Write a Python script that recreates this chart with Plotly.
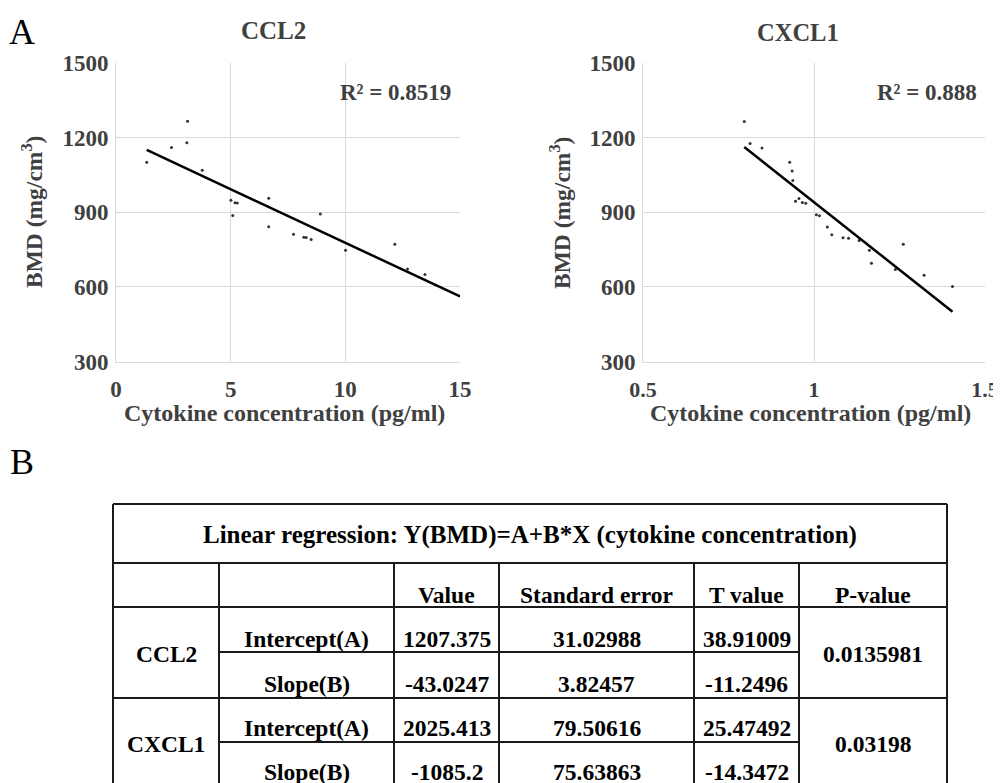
import plotly.graph_objects as go

# the page body has an 8px margin: the figure starts at (8, 8) in the window
OFF = 8
W, H = 1001 - OFF, 783 - OFF

# ---------------- data ----------------
ccl2_x = [1.34, 2.42, 3.12, 3.09, 3.76, 5.01, 5.19, 5.29, 5.09, 6.66, 6.66, 7.74,
          8.19, 8.29, 8.51, 8.91, 10.01, 12.16, 12.71, 13.47]
ccl2_y = [1100, 1160, 1265, 1179, 1068, 948, 938, 937, 887, 956, 842, 812,
          799, 798, 790, 893, 747, 771, 672, 650]

cxcl1_x = [0.796, 0.813, 0.848, 0.929, 0.936, 0.938, 0.946, 0.956, 0.966, 0.976,
           1.007, 1.016, 1.039, 1.052, 1.085, 1.101, 1.132, 1.162, 1.168, 1.261,
           1.238, 1.322, 1.405]
cxcl1_y = [1264, 1176, 1158, 1100, 1065, 1027, 944, 955, 939, 936,
           890, 886, 841, 810, 797, 795, 786, 747, 695, 771,
           670, 647, 602]

ccl2_fit = (1207.375, -43.0247)      # intercept, slope
cxcl1_fit = (2025.413, -1085.2)
ccl2_trend_x = [min(ccl2_x), 15]
cxcl1_trend_x = [min(cxcl1_x), max(cxcl1_x)]

r2_labels = ["R² = 0.8519", "R² = 0.888"]
chart_titles = ["CCL2", "CXCL1"]
y_ticks = [300, 600, 900, 1200, 1500]
x_ticks_left = [0, 5, 10, 15]
x_ticks_right = [0.5, 1, 1.5]

table_title = "Linear regression: Y(BMD)=A+B*X (cytokine concentration)"
table_header = ["", "", "Value", "Standard error", "T value", "P-value"]
cytokines = ["CCL2", "CXCL1"]
params = ["Intercept(A)", "Slope(B)"]
values = [["1207.375", "-43.0247"], ["2025.413", "-1085.2"]]
std_errors = [["31.02988", "3.82457"], ["79.50616", "75.63863"]]
t_values = [["38.91009", "-11.2496"], ["25.47492", "-14.3472"]]
p_values = ["0.0135981", "0.03198"]

# ---------------- helpers ----------------
def px(x):
    return (x - OFF) / W

def py(y):
    return 1 - (y - OFF) / H

FONT = "Liberation Serif"
GRAY = "#404040"

fig = go.Figure()

def trend(fit, xs):
    return [fit[0] + fit[1] * x for x in xs]

fig.add_trace(go.Scatter(x=ccl2_x, y=ccl2_y, mode="markers",
                         marker=dict(size=3, color="#333333"), xaxis="x", yaxis="y"))
fig.add_trace(go.Scatter(x=ccl2_trend_x, y=trend(ccl2_fit, ccl2_trend_x), mode="lines",
                         line=dict(color="black", width=2.5), xaxis="x", yaxis="y"))
fig.add_trace(go.Scatter(x=cxcl1_x, y=cxcl1_y, mode="markers",
                         marker=dict(size=3, color="#333333"), xaxis="x2", yaxis="y2"))
fig.add_trace(go.Scatter(x=cxcl1_trend_x, y=trend(cxcl1_fit, cxcl1_trend_x), mode="lines",
                         line=dict(color="black", width=2.5), xaxis="x2", yaxis="y2"))

tickfont = dict(family=FONT, size=23, color=GRAY, weight="bold")
tickfont_small = dict(family=FONT, size=22, color=GRAY, weight="bold")
plot_top, plot_bot = 62.7, 361.7
ydom = [py(plot_bot), py(plot_top)]

axis_common = dict(showgrid=True, gridcolor="#d9d9d9", gridwidth=1, zeroline=False,
                   showline=True, linecolor="#d9d9d9", linewidth=1, ticks="",
                   automargin=False, ticklabeloverflow="allow")

fig.update_layout(
    template="none",
    width=W, height=H, autosize=False,
    margin=dict(l=0, r=0, t=0, b=0, pad=0),
    paper_bgcolor="white", plot_bgcolor="white",
    showlegend=False,
    xaxis=dict(domain=[px(116), px(460)], range=[0, 15], tickvals=x_ticks_left,
               anchor="y", ticklabelstandoff=7, tickfont=tickfont, **axis_common),
    yaxis=dict(domain=ydom, range=[300, 1500], tickvals=y_ticks, anchor="x",
               ticklabelstandoff=2, tickfont=tickfont, **axis_common),
    xaxis2=dict(domain=[px(643), px(985)], range=[0.5, 1.5], tickvals=x_ticks_right,
                anchor="y2", ticklabelstandoff=8, tickfont=tickfont_small, **axis_common),
    yaxis2=dict(domain=ydom, range=[300, 1500], tickvals=y_ticks, anchor="x2",
                ticklabelstandoff=2, tickfont=tickfont, **axis_common),
)

ann = []
def text(t, x, y, size=20, color=GRAY, bold=True, xanchor="center", angle=0):
    ann.append(dict(text=t, x=px(x), y=py(y), xref="paper", yref="paper",
                    xanchor=xanchor, yanchor="middle", showarrow=False, textangle=angle,
                    font=dict(family=FONT, size=size, color=color,
                              weight="bold" if bold else "normal")))

# panel letters
text("A", 22, 32, size=36, color="black", bold=False)
text("B", 22, 462, size=36, color="black", bold=False)

# chart titles
text(chart_titles[0], 273, 30, size=25)
text(chart_titles[1], 798, 33, size=24.5)

# R² labels
text(r2_labels[0], 453, 93, size=23, xanchor="right")
text(r2_labels[1], 979, 93, size=23, xanchor="right")

# axis titles
text("BMD (mg/cm<sup>3</sup>)", 32, 212, size=23.5, angle=-90)
text("BMD (mg/cm<sup>3</sup>)", 560, 213, size=23.5, angle=-90)
text("Cytokine concentration (pg/ml)", 284, 413, size=24)
text("Cytokine concentration (pg/ml)", 810, 413, size=24)

# ---------------- table ----------------
col_edges = [113, 219, 394, 499, 694, 799, 947]
row_edges = [504, 563, 607, 652, 698, 742, 788]
shapes = []
LW = 2
def hline(x0, x1, y):
    shapes.append(dict(type="line", xref="paper", yref="paper", x0=px(x0), x1=px(x1),
                       y0=py(y), y1=py(y), line=dict(color="#1a1a1a", width=LW)))
def vline(x, y0, y1):
    shapes.append(dict(type="line", xref="paper", yref="paper", x0=px(x), x1=px(x),
                       y0=py(y0), y1=py(y1), line=dict(color="#1a1a1a", width=LW)))

for y in [row_edges[0], row_edges[1], row_edges[2], row_edges[4], row_edges[6]]:
    hline(col_edges[0], col_edges[-1], y)
for y in [row_edges[3], row_edges[5]]:
    hline(col_edges[1], col_edges[5], y)
vline(col_edges[0], row_edges[0], row_edges[-1])
vline(col_edges[-1], row_edges[0], row_edges[-1])
for x in col_edges[1:-1]:
    vline(x, row_edges[1], row_edges[-1])

def cx(i):
    return (col_edges[i] + col_edges[i + 1]) / 2

TS = 23.5
text(table_title, (col_edges[0] + col_edges[-1]) / 2, 535, size=25, color="black")
for i, h in enumerate(table_header):
    if h:
        text(h, cx(i), 595, size=TS, color="black")

for k in range(2):
    top = row_edges[2 + 2 * k]
    mid = row_edges[3 + 2 * k]
    bot = row_edges[4 + 2 * k]
    text(cytokines[k], cx(0), (top + bot) / 2 + 1, size=TS, color="black")
    text(p_values[k], cx(5), (top + bot) / 2 + 1, size=TS, color="black")
    for j, ry in enumerate([top, mid]):
        yy = ry + (32 if k == 0 else 30)
        text(params[j], cx(1), yy, size=TS, color="black")
        text(values[k][j], cx(2), yy, size=TS, color="black")
        text(std_errors[k][j], cx(3), yy, size=TS, color="black")
        text(t_values[k][j], cx(4), yy, size=TS, color="black")

fig.update_layout(annotations=ann, shapes=shapes)
fig.write_html("out.html")
